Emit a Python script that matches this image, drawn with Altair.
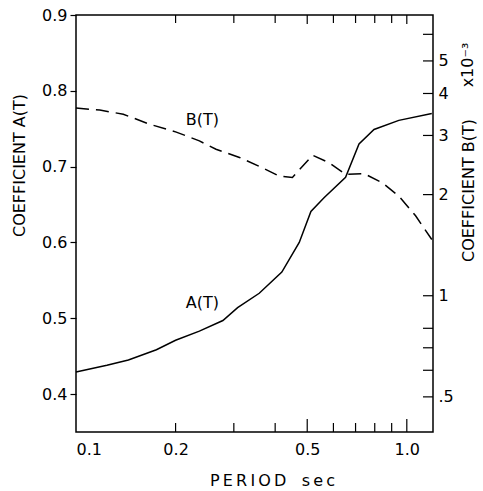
import altair as alt
import pandas as pd

# A(T) solid curve
period_a = [0.1, 0.124, 0.144, 0.175, 0.2, 0.236, 0.278, 0.308, 0.358, 0.419,
            0.473, 0.513, 0.562, 0.653, 0.717, 0.796, 0.946, 1.19]
coef_a = [0.429, 0.438, 0.445, 0.4585, 0.471, 0.483, 0.497, 0.514, 0.533, 0.561,
          0.600, 0.641, 0.659, 0.686, 0.730, 0.749, 0.761, 0.770]

# B(T) dashed curve (x 10^-3)
period_b = [0.1, 0.118, 0.139, 0.167, 0.201, 0.236, 0.265, 0.312, 0.367, 0.412,
            0.451, 0.519, 0.582, 0.653, 0.742, 0.843, 0.946, 1.063, 1.19]
coef_b = [3.62, 3.57, 3.47, 3.24, 3.07, 2.89, 2.73, 2.58, 2.40, 2.27,
          2.25, 2.62, 2.49, 2.30, 2.31, 2.17, 1.98, 1.73, 1.47]

# curve labels
label_text = ["B(T)", "A(T)"]
label_period = [0.241, 0.241]
label_coef = [0.761, 0.520]

# tick values
x_label_ticks = [0.1, 0.2, 0.5, 1.0]
x_minor_ticks = [0.2, 0.3, 0.4, 0.6, 0.7, 0.8, 0.9]
x_major_ticks = [0.5, 1.0]
a_ticks = [0.4, 0.5, 0.6, 0.7, 0.8, 0.9]
b_ticks = [0.5, 0.6, 0.7, 0.8, 1, 2, 3, 4, 5, 6]

W, H = 357, 417
FONT = "DejaVu Sans"

dfA = pd.DataFrame({"T": period_a, "A": coef_a})
dfB = pd.DataFrame({"T": period_b, "B": coef_b})
dfL = pd.DataFrame({"T": label_period, "A": label_coef, "text": label_text})
dfXmin = pd.DataFrame({"T": x_minor_ticks})
dfXmaj = pd.DataFrame({"T": x_major_ticks})
dfBt = pd.DataFrame({"B": b_ticks})

xscale = alt.Scale(type="log", domain=[0.1, 1.2], nice=False)
xaxis = alt.Axis(
    values=x_label_ticks, format=".1f", ticks=False, domain=False, grid=False,
    labelFont=FONT, labelFontSize=16, labelColor="black", labelPadding=9,
    labelBaseline="top",
    title="P\u2009E\u2009R\u2009I\u2009O\u2009D\u00a0\u00a0\u00a0s\u2009e\u2009c",
    titleFont=FONT, titleFontSize=16, titleFontWeight="normal", titleColor="black",
    titleX=196, titleY=48, titleBaseline="middle",
)
x = alt.X("T:Q", scale=xscale, axis=xaxis)

ascale = alt.Scale(domain=[0.35, 0.9], nice=False, zero=False)
aaxis = alt.Axis(
    orient="left", values=a_ticks, format=".1f", grid=False, domain=False,
    tickSize=6, tickColor="black", tickWidth=1.2, labelPadding=3,
    labelFont=FONT, labelFontSize=16, labelColor="black",
    title="COEFFICIENT A(T)", titleFont=FONT, titleFontSize=16,
    titleFontWeight="normal", titleColor="black",
    titleAngle=270, titleX=-57, titleY=150, titleBaseline="middle",
)
ya = alt.Y("A:Q", scale=ascale, axis=aaxis)

bscale = alt.Scale(type="log", domain=[0.393, 6.85], nice=False)
baxis = alt.Axis(
    orient="right", values=b_ticks, ticks=False, domain=False, grid=False,
    labelExpr="datum.value == 0.5 ? '.5' : (datum.value >= 1 && datum.value <= 5 ? format(datum.value, 'd') : '')",
    labelFont=FONT, labelFontSize=16, labelColor="black", labelPadding=5,
    title="COEFFICIENT B(T)", titleFont=FONT, titleFontSize=16,
    titleFontWeight="normal", titleColor="black",
    titleAngle=270, titleX=35, titleY=175, titleBaseline="middle",
)
yb = alt.Y("B:Q", scale=bscale, axis=baxis)

lineA = alt.Chart(dfA).mark_line(color="black", strokeWidth=1.5).encode(x=x, y=ya)
textL = alt.Chart(dfL).mark_text(font=FONT, fontSize=16, color="black").encode(
    x=x, y=ya, text="text:N")
minorX_bot = alt.Chart(dfXmin).mark_rule(color="black", strokeWidth=1.2).encode(
    x=x, y=alt.value(H), y2=alt.value(H - 9))
majorX_bot = alt.Chart(dfXmaj).mark_rule(color="black", strokeWidth=1.2).encode(
    x=x, y=alt.value(H), y2=alt.value(H - 13))
minorX_top = alt.Chart(dfXmin).mark_rule(color="black", strokeWidth=1.2).encode(
    x=x, y=alt.value(0), y2=alt.value(8))
majorX_top = alt.Chart(dfXmaj).mark_rule(color="black", strokeWidth=1.2).encode(
    x=x, y=alt.value(0), y2=alt.value(9))

layerA = alt.layer(lineA, textL, minorX_bot, majorX_bot, minorX_top, majorX_top)

lineB = alt.Chart(dfB).mark_line(color="black", strokeWidth=1.5, strokeDash=[13, 7]).encode(
    x=x, y=yb)
ticksB = alt.Chart(dfBt).mark_rule(color="black", strokeWidth=1.2).encode(
    y=yb, x=alt.value(W), x2=alt.value(W - 10))
exp_text = alt.Chart(dfBt).mark_text(
    font=FONT, fontSize=16, color="black", angle=270, align="center", baseline="middle",
    text="x10\u207b\u00b3",
).encode(x=alt.value(392), y=alt.value(50)).transform_filter("datum.B == 1")

layerB = alt.layer(lineB, ticksB, exp_text)

chart = alt.layer(layerA, layerB).resolve_scale(y="independent").properties(
    width=W, height=H,
    autosize=alt.AutoSizeParams(type="none"),
    padding={"left": 76, "top": 15, "right": 50, "bottom": 59},
    background="white",
).configure_view(stroke="black", strokeWidth=1.5)

chart.save("out.html", embed_options={"renderer": "svg", "actions": False})
